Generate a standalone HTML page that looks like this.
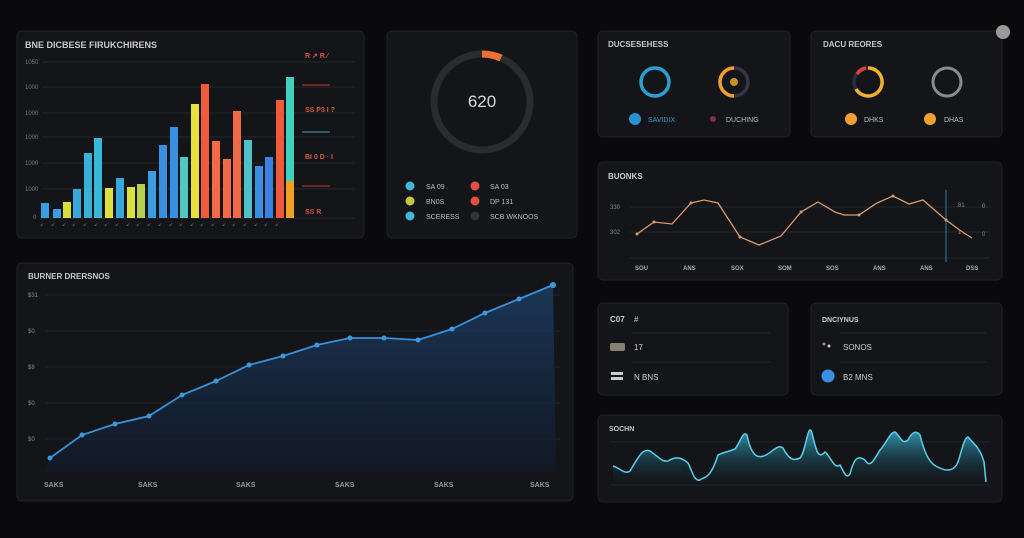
<!DOCTYPE html>
<html><head><meta charset="utf-8"><style>
html,body{margin:0;padding:0;background:#0a0a0d;}
svg{display:block;font-family:"Liberation Sans",sans-serif;}
</style></head><body>
<svg width="1024" height="538" viewBox="0 0 1024 538" xmlns="http://www.w3.org/2000/svg">
<defs>
<linearGradient id="ag" x1="0" y1="0" x2="0" y2="1"><stop offset="0" stop-color="#1c3a5e" stop-opacity="0.9"/><stop offset="1" stop-color="#111a2a" stop-opacity="0.7"/></linearGradient>
<linearGradient id="wg" x1="0" y1="0" x2="0" y2="1"><stop offset="0" stop-color="#3ab8d8" stop-opacity="0.8"/><stop offset="1" stop-color="#10202e" stop-opacity="0.2"/></linearGradient>
</defs>
<rect width="1024" height="538" fill="#0a0a0d"/>
<g fill="#141518" stroke="#1f2126" stroke-width="1">
<rect x="17" y="31" width="347" height="207" rx="5"/>
<rect x="387" y="31" width="190" height="207" rx="5"/>
<rect x="598" y="31" width="192" height="106" rx="5"/>
<rect x="811" y="31" width="191" height="106" rx="5"/>
<rect x="598" y="162" width="404" height="118" rx="5"/>
<rect x="17" y="263" width="556" height="238" rx="5"/>
<rect x="598" y="303" width="190" height="92" rx="5"/>
<rect x="811" y="303" width="191" height="92" rx="5"/>
<rect x="598" y="415" width="404" height="87" rx="5"/>
</g>
<circle cx="1003" cy="32" r="7" fill="#9a9a9a"/>
<text x="25" y="48" fill="#c8c8c8" font-size="9" font-weight="bold">BNE DICBESE FIRUKCHIRENS</text>
<g stroke="#26282d" stroke-width="1">
<line x1="42" y1="62" x2="355" y2="62"/><line x1="42" y1="87" x2="355" y2="87"/><line x1="42" y1="113" x2="355" y2="113"/><line x1="42" y1="137" x2="355" y2="137"/><line x1="42" y1="163" x2="355" y2="163"/><line x1="42" y1="189" x2="355" y2="189"/><line x1="42" y1="218" x2="355" y2="218"/>
</g>
<g fill="#777" font-size="6"><text x="25" y="64">1050</text><text x="25" y="89">1000</text><text x="25" y="115">1000</text><text x="25" y="139">1000</text><text x="25" y="165">1000</text><text x="25" y="191">1000</text><text x="33" y="219">0</text></g>
<g>
<rect x="41" y="203" width="8" height="15" fill="#3a9de0"/>
<rect x="53" y="209" width="8" height="9" fill="#3a9de0"/>
<rect x="63" y="202" width="8" height="16" fill="#d8dc3c"/>
<rect x="73" y="189" width="8" height="29" fill="#38a8dc"/>
<rect x="84" y="153" width="8" height="65" fill="#38b0d8"/>
<rect x="94" y="138" width="8" height="80" fill="#3ab8d8"/>
<rect x="105" y="188" width="8" height="30" fill="#dce040"/>
<rect x="116" y="178" width="8" height="40" fill="#38a8dc"/>
<rect x="127" y="187" width="8" height="31" fill="#dce040"/>
<rect x="137" y="184" width="8" height="34" fill="#b8d050"/>
<rect x="148" y="171" width="8" height="47" fill="#3a9de0"/>
<rect x="159" y="145" width="8" height="73" fill="#3a90e0"/>
<rect x="170" y="127" width="8" height="91" fill="#3a90e0"/>
<rect x="180" y="157" width="8" height="61" fill="#50c8c0"/>
<rect x="191" y="104" width="8" height="114" fill="#e8e040"/>
<rect x="201" y="84" width="8" height="134" fill="#f05a3c"/>
<rect x="212" y="141" width="8" height="77" fill="#f06a48"/>
<rect x="223" y="159" width="8" height="59" fill="#f06a48"/>
<rect x="233" y="111" width="8" height="107" fill="#f06a48"/>
<rect x="244" y="140" width="8" height="78" fill="#50c0c8"/>
<rect x="255" y="166" width="8" height="52" fill="#3a90e0"/>
<rect x="265" y="157" width="8" height="61" fill="#3a80e0"/>
<rect x="276" y="100" width="8" height="118" fill="#f05a3c"/>
<rect x="286" y="77" width="8" height="104" fill="#40d0c0"/>
<rect x="286" y="181" width="8" height="37" fill="#f0a020"/>
</g>
<g fill="#777" font-size="5">
<text x="40" y="226">↙</text><text x="51" y="226">↙</text><text x="62" y="226">↙</text><text x="72" y="226">↙</text><text x="83" y="226">↙</text><text x="94" y="226">↙</text><text x="104" y="226">↙</text><text x="115" y="226">↙</text><text x="126" y="226">↙</text><text x="136" y="226">↙</text><text x="147" y="226">↙</text><text x="158" y="226">↙</text><text x="169" y="226">↙</text><text x="179" y="226">↙</text><text x="190" y="226">↙</text><text x="200" y="226">↙</text><text x="211" y="226">↙</text><text x="222" y="226">↙</text><text x="232" y="226">↙</text><text x="243" y="226">↙</text><text x="254" y="226">↙</text><text x="264" y="226">↙</text><text x="275" y="226">↙</text>
</g>
<g font-size="7" font-weight="bold">
<text x="305" y="58" fill="#e05040">R ↗ R ⁄</text>
<line x1="302" y1="85" x2="330" y2="85" stroke="#c04030"/>
<text x="305" y="112" fill="#d05a40">SS P3 I ?</text>
<line x1="302" y1="132" x2="330" y2="132" stroke="#40a8b0"/>
<text x="305" y="159" fill="#d06040">BI 0 D · I</text>
<line x1="302" y1="186" x2="330" y2="186" stroke="#c04030"/>
<text x="305" y="214" fill="#d05040">SS R</text>
</g>
<circle cx="482" cy="102" r="48" fill="none" stroke="#2a2b2e" stroke-width="7"/>
<path d="M482 54 A48 48 0 0 1 501 58" fill="none" stroke="#f07030" stroke-width="7"/>
<text x="482" y="107" fill="#d8d8d8" font-size="17" text-anchor="middle">620</text>
<g font-size="7" fill="#bbb">
<circle cx="410" cy="186" r="4.5" fill="#40b8d8"/><text x="426" y="189">SA 09</text>
<circle cx="475" cy="186" r="4.5" fill="#e05040"/><text x="490" y="189">SA 03</text>
<circle cx="410" cy="201" r="4.5" fill="#c8c840"/><text x="426" y="204">BN0S</text>
<circle cx="475" cy="201" r="4.5" fill="#e05040"/><text x="490" y="204">DP 131</text>
<circle cx="410" cy="216" r="4.5" fill="#40b8d8"/><text x="426" y="219">SCERESS</text>
<circle cx="475" cy="216" r="4.5" fill="#333"/><text x="490" y="219">SCB WKNOOS</text>
</g>
<text x="608" y="47" fill="#c8c8c8" font-size="8" font-weight="bold">DUCSESEHESS</text>
<text x="823" y="47" fill="#c8c8c8" font-size="8" font-weight="bold">DACU REORES</text>
<circle cx="655" cy="82" r="14" fill="none" stroke="#2aa0d0" stroke-width="3.5"/>
<circle cx="734" cy="82" r="14" fill="none" stroke="#3a3448" stroke-width="3.5"/>
<path d="M734 68 A14 14 0 0 0 734 96" fill="none" stroke="#f0a030" stroke-width="3.5"/>
<circle cx="734" cy="82" r="4" fill="#c89020"/>
<circle cx="868" cy="82" r="14" fill="none" stroke="#2a2a44" stroke-width="3.5"/>
<path d="M868 68 A14 14 0 1 1 856 89" fill="none" stroke="#f0b030" stroke-width="3.5"/>
<path d="M857 74 A14 14 0 0 1 866 68" fill="none" stroke="#e04030" stroke-width="3.5"/>
<circle cx="947" cy="82" r="14" fill="none" stroke="#8a8a8a" stroke-width="3"/>
<g font-size="7" fill="#bbb">
<circle cx="635" cy="119" r="6" fill="#2a90d0"/><text x="648" y="122" fill="#3a9ad0">SAVIDIX</text>
<circle cx="713" cy="119" r="3" fill="#803040"/><text x="726" y="122">DUCHING</text>
<circle cx="851" cy="119" r="6" fill="#f0a030"/><text x="864" y="122">DHKS</text>
<circle cx="930" cy="119" r="6" fill="#f0a030"/><text x="944" y="122">DHAS</text>
</g>
<text x="608" y="179" fill="#c8c8c8" font-size="8" font-weight="bold">BUONKS</text>
<g stroke="#26282d"><line x1="630" y1="207" x2="990" y2="207"/><line x1="630" y1="232" x2="990" y2="232"/><line x1="630" y1="258" x2="990" y2="258"/></g>
<line x1="946" y1="190" x2="946" y2="262" stroke="#2a5a78" stroke-width="1.5"/>
<g fill="#888" font-size="6"><text x="610" y="209">330</text><text x="610" y="234">302</text><text x="958" y="207">81</text><text x="958" y="234">1</text><text x="982" y="208">0</text><text x="982" y="236">0</text></g>
<polyline fill="none" stroke="#d89a70" stroke-width="1.3" points="637,234 654,222 672,224 691,203 704,200 718,203 740,237 759,245 781,236 801,212 818,202 835,212 844,215 859,215 877,203 893,196 909,204 923,200 946,220 961,231 972,238"/>
<g fill="#d89a70"><circle cx="637" cy="234" r="1.5"/><circle cx="654" cy="222" r="1.5"/><circle cx="691" cy="203" r="1.5"/><circle cx="740" cy="237" r="1.5"/><circle cx="801" cy="212" r="1.5"/><circle cx="859" cy="215" r="1.5"/><circle cx="893" cy="196" r="1.5"/><circle cx="946" cy="220" r="1.5"/></g>
<g fill="#aaa" font-size="6" font-weight="bold"><text x="635" y="270">SOU</text><text x="683" y="270">ANS</text><text x="731" y="270">SOX</text><text x="778" y="270">SOM</text><text x="826" y="270">SOS</text><text x="873" y="270">ANS</text><text x="920" y="270">ANS</text><text x="966" y="270">DSS</text></g>
<text x="28" y="279" fill="#c8c8c8" font-size="8" font-weight="bold">BURNER DRERSNOS</text>
<g stroke="#22252b"><line x1="45" y1="295" x2="560" y2="295"/><line x1="45" y1="331" x2="560" y2="331"/><line x1="45" y1="367" x2="560" y2="367"/><line x1="45" y1="403" x2="560" y2="403"/><line x1="45" y1="439" x2="560" y2="439"/></g>
<g fill="#888" font-size="6"><text x="28" y="297">$31</text><text x="28" y="333">$0</text><text x="28" y="369">$8</text><text x="28" y="405">$0</text><text x="28" y="441">$0</text></g>
<path d="M50,458 L82,435 L115,424 L149,416 L182,395 L216,381 L249,365 L283,356 L317,345 L350,338 L384,338 L418,340 L452,329 L485,313 L519,299 L553,285 L556,472 L44,472 Z" fill="url(#ag)"/>
<polyline fill="none" stroke="#3a90d8" stroke-width="1.8" points="50,458 82,435 115,424 149,416 182,395 216,381 249,365 283,356 317,345 350,338 384,338 418,340 452,329 485,313 519,299 553,285"/>
<g fill="#3a9ae0"><circle cx="50" cy="458" r="2.5"/><circle cx="82" cy="435" r="2.5"/><circle cx="115" cy="424" r="2.5"/><circle cx="149" cy="416" r="2.5"/><circle cx="182" cy="395" r="2.5"/><circle cx="216" cy="381" r="2.5"/><circle cx="249" cy="365" r="2.5"/><circle cx="283" cy="356" r="2.5"/><circle cx="317" cy="345" r="2.5"/><circle cx="350" cy="338" r="2.5"/><circle cx="384" cy="338" r="2.5"/><circle cx="418" cy="340" r="2.5"/><circle cx="452" cy="329" r="2.5"/><circle cx="485" cy="313" r="2.5"/><circle cx="519" cy="299" r="2.5"/><circle cx="553" cy="285" r="3"/></g>
<g fill="#999" font-size="7" font-weight="bold"><text x="44" y="487">SAKS</text><text x="138" y="487">SAKS</text><text x="236" y="487">SAKS</text><text x="335" y="487">SAKS</text><text x="434" y="487">SAKS</text><text x="530" y="487">SAKS</text></g>
<g font-size="8" fill="#ccc">
<text x="610" y="322" font-weight="bold">C07</text><text x="634" y="322">#</text>
<line x1="632" y1="333" x2="770" y2="333" stroke="#26282d"/>
<rect x="610" y="343" width="15" height="8" rx="2" fill="#8a7e72"/><text x="634" y="350">17</text>
<line x1="632" y1="362" x2="770" y2="362" stroke="#26282d"/>
<rect x="611" y="372" width="12" height="3" fill="#ccc"/><rect x="611" y="377" width="12" height="3" fill="#ccc"/><text x="634" y="380">N BNS</text>
<text x="822" y="322" font-size="7" font-weight="bold">DNCIYNUS</text>
<line x1="840" y1="333" x2="986" y2="333" stroke="#26282d"/>
<circle cx="824" cy="344" r="1.5" fill="#c08080"/><circle cx="829" cy="346" r="1.5" fill="#ccc"/><text x="843" y="350">SONOS</text>
<line x1="840" y1="362" x2="986" y2="362" stroke="#26282d"/>
<circle cx="828" cy="376" r="6.5" fill="#3a90e0"/><text x="843" y="380">B2 MNS</text>
</g>
<text x="609" y="431" fill="#c8c8c8" font-size="7" font-weight="bold">SOCHN</text>
<line x1="610" y1="442" x2="990" y2="442" stroke="#22252b"/>
<line x1="610" y1="485" x2="990" y2="485" stroke="#22252b"/>
<path d="M613,466 C620,468 625,475 630,471 C638,458 642,448 650,451 C660,458 662,462 668,461 C674,457 680,456 688,463 C692,470 694,482 700,480 C705,476 710,480 718,455 C724,452 728,452 735,449 C740,443 743,430 747,435 C752,460 760,458 766,455 C772,452 778,444 783,448 C790,462 795,460 800,458 C806,452 808,420 812,433 C816,450 818,460 825,452 C830,455 834,470 840,465 C843,470 846,480 850,474 C854,458 858,455 865,460 C870,468 873,462 880,450 C886,444 890,432 895,432 C900,436 902,445 908,440 C912,432 916,430 920,435 C925,455 930,465 940,468 C948,472 955,470 958,462 C962,450 964,438 968,437 C975,445 980,448 984,462 L986,482 L613,482 Z" fill="url(#wg)"/>
<path d="M613,466 C620,468 625,475 630,471 C638,458 642,448 650,451 C660,458 662,462 668,461 C674,457 680,456 688,463 C692,470 694,482 700,480 C705,476 710,480 718,455 C724,452 728,452 735,449 C740,443 743,430 747,435 C752,460 760,458 766,455 C772,452 778,444 783,448 C790,462 795,460 800,458 C806,452 808,420 812,433 C816,450 818,460 825,452 C830,455 834,470 840,465 C843,470 846,480 850,474 C854,458 858,455 865,460 C870,468 873,462 880,450 C886,444 890,432 895,432 C900,436 902,445 908,440 C912,432 916,430 920,435 C925,455 930,465 940,468 C948,472 955,470 958,462 C962,450 964,438 968,437 C975,445 980,448 984,462 L986,482" fill="none" stroke="#5ad0e8" stroke-width="1.5"/>
</svg>
</body></html>
